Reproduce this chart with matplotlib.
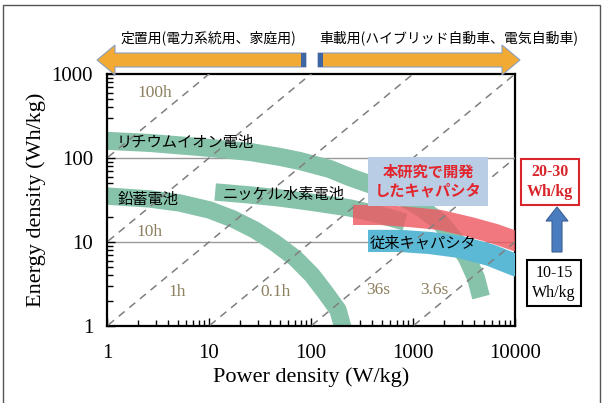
import matplotlib
matplotlib.use("Agg")
import matplotlib.pyplot as plt
from matplotlib.patches import FancyArrow, Rectangle
from matplotlib.transforms import IdentityTransform
import numpy as np

# ---- data ----
# constant discharge-time lines, hours
time_hours = [100, 10, 1, 0.1, 0.01, 0.001]
time_labels = ["100h", "10h", "1h", "0.1h", "36s", "3.6s"]
time_label_p = [2.95, 2.6, 4.9, 45, 454, 1600]
time_label_e = [590, 13.2, 2.55, 2.55, 2.68, 2.68]

# band centre lines: power (W/kg), energy (Wh/kg)
liion_p = [0.9, 2.64, 8.16, 25.2, 49.7, 78, 153, 241, 424, 746, 1172, 1841, 2582, 3383, 4147, 4645]
liion_e = [161, 151, 135, 118, 103, 92, 74, 59, 46.4, 35.3, 26.1, 17.3, 10.6, 6.45, 3.73, 2.21]
lead_p = [0.9, 2.64, 5.2, 10.2, 17.2, 28.2, 44.4, 69.7, 102, 137, 184, 211]
lead_e = [35.5, 32.5, 29.1, 24.0, 18.8, 13.9, 9.73, 6.45, 4.05, 2.54, 1.55, 0.85]
nimh_p = [11.5, 25.2, 49.7, 97.8, 241, 474, 835]
nimh_e = [39.4, 36.3, 33.4, 29.9, 25.4, 21, 17.3]
new_cap_p = [258, 474, 935, 1841, 3622, 6370, 10000, 14000]
new_cap_e = [21, 21, 19.8, 18.3, 15.1, 12.5, 10.3, 9.0]
old_cap_p = [362, 746, 1468, 2890, 5690, 10000, 14000]
old_cap_e = [10.3, 10.3, 9.73, 8.72, 7.0, 5.33, 4.65]

x_ticks = [1, 10, 100, 1000, 10000]
y_ticks = [1, 10, 100, 1000]

JP = ["Noto Sans CJK JP", "DejaVu Sans"]
SERIF = "Liberation Serif"
GREEN = "#86C3AA"
RED = "#EE5A63"
BLUE = "#5BB9D6"
OLIVE = "#8C8060"

fig = plt.figure(figsize=(6.04, 4.03), dpi=100)
ax = fig.add_axes([107 / 604, 1 - 326 / 403, 408 / 604, 252 / 403])
ax.set_xscale("log")
ax.set_yscale("log")
ax.set_xlim(1, 10000)
ax.set_ylim(1, 1000)

# grid lines at 10 and 100
for g in [10, 100]:
    ax.axhline(g, color="#999999", lw=1.0, zorder=1)

# bands
band = dict(solid_capstyle="butt", solid_joinstyle="round")
ax.plot(liion_p, liion_e, color=GREEN, lw=13, zorder=2, **band)
ax.plot(lead_p, lead_e, color=GREEN, lw=12.5, zorder=2, **band)
ax.plot(nimh_p, nimh_e, color=GREEN, lw=12.5, zorder=2, **band)
ax.plot(old_cap_p, old_cap_e, color=BLUE, lw=16, zorder=3, **band)
ax.plot(new_cap_p, new_cap_e, color=RED, lw=14.5, alpha=0.82, zorder=4, **band)

# constant time lines
p_line = np.array([0.5, 20000])
for t in time_hours:
    ax.plot(p_line, p_line * t, color="#7F7F7F", lw=1.1, ls=(0, (5, 4)), zorder=5)
for lab, p, e in zip(time_labels, time_label_p, time_label_e):
    ax.text(p, e, lab, color=OLIVE, fontsize=12.5, family=SERIF,
            ha="center", va="center", zorder=6)

# band labels
ax.text(1.25, 151, "リチウムイオン電池", family=JP, fontsize=11, va="center", zorder=7)
ax.text(1.28, 32.5, "鉛蓄電池", family=JP, fontsize=11, va="center", zorder=7)
ax.text(13.7, 37.3, "ニッケル水素電池", family=JP, fontsize=11, va="center", zorder=7)
ax.text(379, 9.7, "従来キャパシタ", family=JP, fontsize=11, va="center", zorder=7)
ax.text(1403, 53, "本研究で開発\nしたキャパシタ", family=JP, fontsize=11,
        color="#E3262E", fontweight="bold", ha="center", va="center",
        linespacing=1.25, zorder=7,
        bbox=dict(boxstyle="square,pad=0.45", fc="#B9CDE5", ec="none"))

# axes styling
ax.set_xticks(x_ticks)
ax.set_xticklabels([str(v) for v in x_ticks])
ax.set_yticks(y_ticks)
ax.set_yticklabels([str(v) for v in y_ticks])
ax.tick_params(which="major", direction="in", length=6, width=1, top=False, right=False)
ax.tick_params(which="minor", direction="in", length=4, width=1, top=False, right=False)
ax.tick_params(axis="x", which="major", pad=13)
ax.tick_params(axis="y", which="major", pad=10)
for lab in ax.get_xticklabels() + ax.get_yticklabels():
    lab.set_family(SERIF)
    lab.set_fontsize(15)
for s in ax.spines.values():
    s.set_linewidth(1.6)
ax.set_xlabel("Power density (W/kg)", family=SERIF, fontsize=16, labelpad=3)
ax.set_ylabel("Energy density (Wh/kg)", family=SERIF, fontsize=16, labelpad=4)

# right side boxes and arrow
fig.text(550 / 604, 1 - 182 / 403, "20-30\nWh/kg", family=SERIF, fontsize=11.5,
         fontweight="bold", color="#D9262C", ha="center", va="center", linespacing=1.3,
         bbox=dict(boxstyle="square,pad=0.35", fc="white", ec="#D9262C", lw=1.5))
fig.text(554 / 604, 1 - 283 / 403, "10-15\nWh/kg", family=SERIF, fontsize=11.5,
         color="black", ha="center", va="center", linespacing=1.3,
         bbox=dict(boxstyle="square,pad=0.35", fc="white", ec="black", lw=1.5))
fig.add_artist(FancyArrow(557, 403 - 252, 0, 45, width=10, head_width=22,
                          head_length=14, length_includes_head=True,
                          fc="#4A7CC0", ec="#3A5F94", lw=0.8,
                          transform=IdentityTransform()))

# top arrows
ORANGE = "#F2AA35"
fig.add_artist(FancyArrow(306, 403 - 60, -209, 0, width=14, head_width=30,
                          head_length=18, length_includes_head=True,
                          fc=ORANGE, ec="#8AA0C0", lw=0.8, transform=IdentityTransform()))
fig.add_artist(FancyArrow(318, 403 - 60, 202, 0, width=14, head_width=30,
                          head_length=18, length_includes_head=True,
                          fc=ORANGE, ec="#8AA0C0", lw=0.8, transform=IdentityTransform()))
fig.add_artist(Rectangle((301, 403 - 67), 5, 14, fc="#3D66A3", ec="none",
                         transform=IdentityTransform()))
fig.add_artist(Rectangle((318, 403 - 67), 5, 14, fc="#3D66A3", ec="none",
                         transform=IdentityTransform()))
fig.text(208 / 604, 1 - 38 / 403, "定置用(電力系統用、家庭用)", family=JP,
         fontsize=10, ha="center", va="center")
fig.text(449 / 604, 1 - 38 / 403, "車載用(ハイブリッド自動車、電気自動車)", family=JP,
         fontsize=10, ha="center", va="center")

# figure frame
fig.add_artist(Rectangle((3, -5), 597, 403, fill=False, ec="#555555", lw=1,
                         transform=IdentityTransform()))

fig.savefig("out.png", dpi=100)
